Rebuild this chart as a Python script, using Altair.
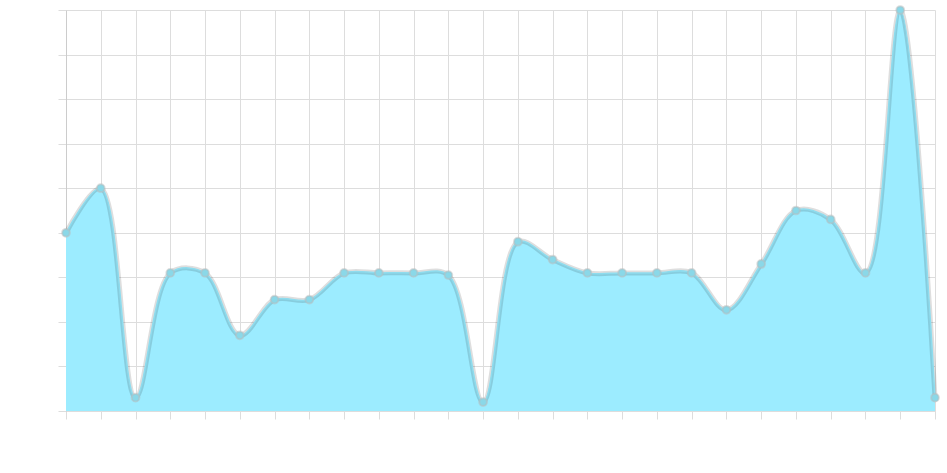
import altair as alt
import pandas as pd

idx = list(range(26))
values = [4.0, 5.0, 0.3, 3.1, 3.1, 1.7, 2.5, 2.5, 3.1, 3.1, 3.1, 3.05, 0.2, 3.8, 3.4,
          3.1, 3.1, 3.1, 3.1, 2.27, 3.3, 4.5, 4.3, 3.1, 9.0, 0.3]

df = pd.DataFrame({"i": idx, "v": values})

x = alt.X("i:Q", scale=alt.Scale(domain=[0, 25], nice=False),
          axis=alt.Axis(values=idx, labels=False, title=None, grid=True,
                        gridColor="#dddddd", tickColor="#dddddd", tickSize=8,
                        domainColor="#dddddd"))
y = alt.Y("v:Q", scale=alt.Scale(domain=[0, 9], nice=False),
          axis=alt.Axis(values=list(range(10)), labels=False, title=None, grid=True,
                        gridColor="#dddddd", tickColor="#dddddd", tickSize=8,
                        domainColor="#cccccc"))

INTERP = "catmull-rom"
base = alt.Chart(df)
area = base.mark_area(interpolate=INTERP, color="#9cecff", opacity=1).encode(x=x, y=y)
halo = base.mark_line(interpolate=INTERP, color="#000000", strokeOpacity=0.13,
                      strokeWidth=5).encode(x=x, y=y)
line = base.mark_line(interpolate=INTERP, color="#8edcee", strokeWidth=1.5).encode(x=x, y=y)
pts = base.mark_point(filled=True, size=60, color="#8ad8e8", opacity=1,
                      stroke="#bbbbbb", strokeWidth=2, strokeOpacity=0.5).encode(x=x, y=y)

chart = (area + halo + line + pts).properties(
    width=869, height=401,
    autosize=alt.AutoSizeParams(type="none"),
    padding={"left": 66, "top": 10, "right": 12, "bottom": 62},
).configure_view(stroke=None)

chart.save("out.html", embed_options={"renderer": "svg", "actions": False})
